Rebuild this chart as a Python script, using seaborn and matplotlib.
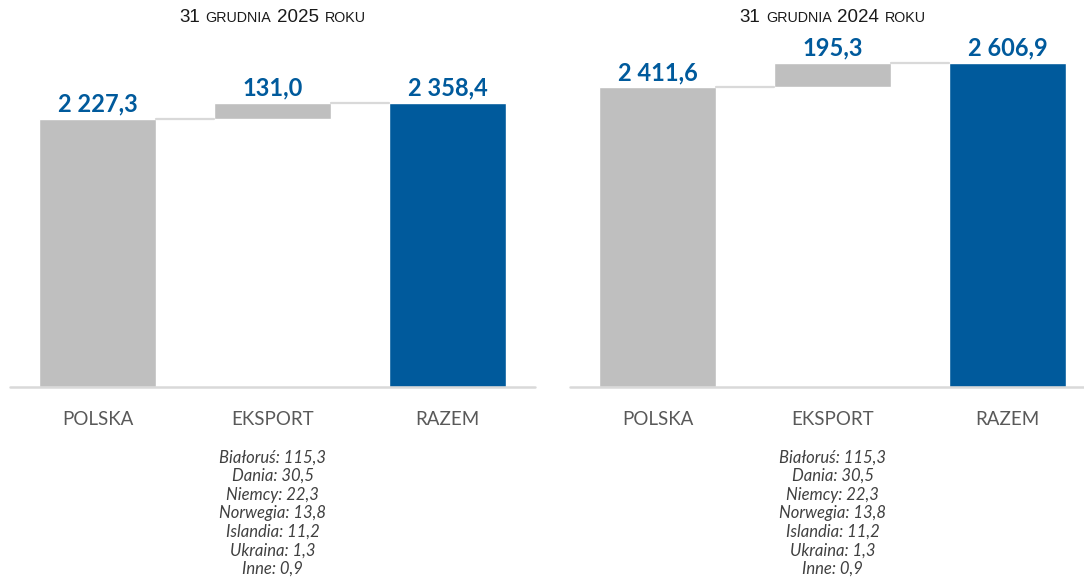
import matplotlib
matplotlib.use("Agg")
import matplotlib.pyplot as plt
import seaborn as sns
from matplotlib.offsetbox import TextArea, HPacker, AnnotationBbox

# --- data -------------------------------------------------------------
categories = ["POLSKA", "EKSPORT", "RAZEM"]
values_2025 = [2227.3, 131.0, 2358.4]
values_2024 = [2411.6, 195.3, 2606.9]
export_countries = ["Białoruś", "Dania", "Niemcy", "Norwegia", "Islandia", "Ukraina", "Inne"]
export_values = [115.3, 30.5, 22.3, 13.8, 11.2, 1.3, 0.9]
panel_years = ["2025", "2024"]

# --- style ------------------------------------------------------------
GRAY = "#BFBFBF"
BLUE = "#005A9C"
LINE = "#D9D9D9"
sns.set_theme(style="white")
plt.rcParams["font.family"] = ["Lato", "DejaVu Sans"]

W, H = 1084, 580
fig = plt.figure(figsize=(W / 100, H / 100), dpi=100)


def fmt(v):
    s = f"{v:,.1f}"
    return s.replace(",", " ").replace(".", ",")


def draw_panel(ax, values, year, ymax):
    palette = [GRAY, GRAY, BLUE]
    sns.barplot(x=categories, y=values, hue=categories, palette=palette,
                saturation=1, width=0.67, legend=False, ax=ax)
    # floating export bar sits on top of the domestic bar
    for p in ax.patches:
        idx = int(round(p.get_x() + p.get_width() / 2))
        if idx == 1:
            p.set_y(values[0])
    tops = [values[0], values[0] + values[1], values[2]]
    half = 0.67 / 2
    # connector lines between bars
    ax.plot([0 + half, 1 - half], [values[0], values[0]], color=LINE, lw=1.6, zorder=1)
    ax.plot([1 + half, 2 - half], [tops[1], tops[1]], color=LINE, lw=1.6, zorder=1)
    # baseline
    ax.axhline(0, color=LINE, lw=1.8, clip_on=False, zorder=3)
    # value labels
    for i, (top, v) in enumerate(zip(tops, values)):
        ax.annotate(fmt(v), (i, top), xytext=(0, 5), textcoords="offset points",
                    ha="center", va="baseline", fontsize=17, fontweight="bold",
                    color=BLUE)
    ax.set_ylim(0, ymax)
    ax.set_yticks([])
    ax.set_xlabel("")
    ax.set_ylabel("")
    for s in ax.spines.values():
        s.set_visible(False)
    ax.tick_params(axis="x", length=0, pad=17, labelsize=13.5, labelcolor="#595959")
    # export breakdown under EKSPORT
    lines = "\n".join(f"{c}: {fmt(v)}" for c, v in zip(export_countries, export_values))
    ax.annotate(lines, (1, 0), xycoords=("data", "axes fraction"),
                xytext=(0, -45), textcoords="offset points",
                ha="center", va="top", fontsize=12, fontstyle="italic",
                color="#404040", linespacing=1.2, annotation_clip=False)
    # title with small-caps words
    parts = [("31", 13.5), ("GRUDNIA", 10.3), (year, 13.5), ("ROKU", 10.3)]
    boxes = [TextArea(t, textprops=dict(fontsize=s, family="Liberation Sans",
                                        color="#1A1A1A")) for t, s in parts]
    pack = HPacker(children=boxes, align="baseline", pad=0, sep=4)
    ab = AnnotationBbox(pack, (1, H - 17), xycoords=("data", "figure pixels"),
                        frameon=False, box_alignment=(0.5, 0.5),
                        annotation_clip=False)
    ax.add_artist(ab)


bottom = (H - 387) / H
height = 347 / H
ax1 = fig.add_axes([10 / W, bottom, 525 / W, height])
ax2 = fig.add_axes([570 / W, bottom, 514 / W, height])

draw_panel(ax1, values_2025, panel_years[0], 2880)
ax1.set_xlim(-0.5, 2.5)
draw_panel(ax2, values_2024, panel_years[1], 2790)
ax2.set_xlim(-0.5, 2.5 - 11 / 175)

fig.savefig("out.png", dpi=100, facecolor="white")
